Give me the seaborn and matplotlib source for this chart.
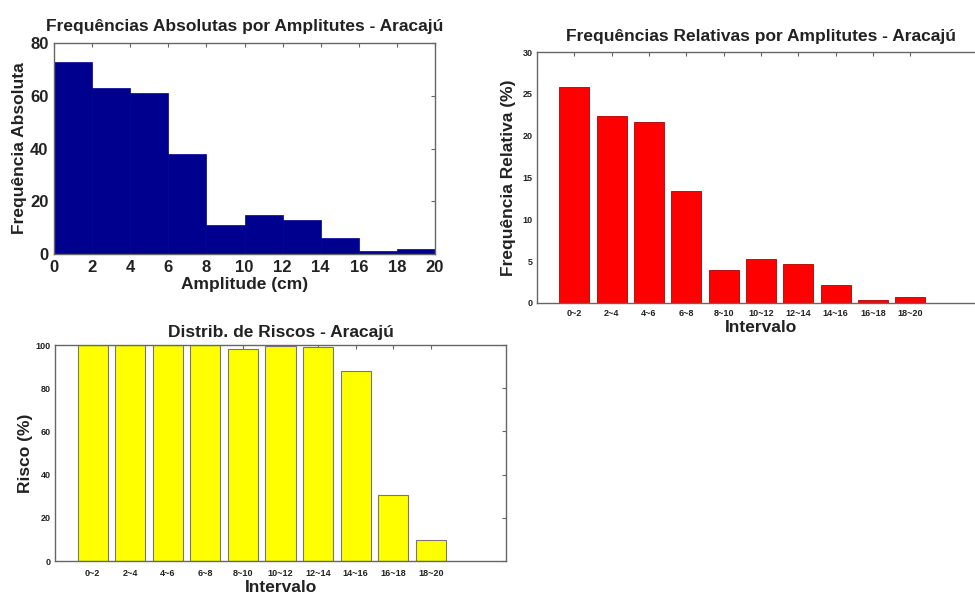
import numpy as np
import pandas as pd
import seaborn as sns
import matplotlib.pyplot as plt

# dados
bin_edges = [0, 2, 4, 6, 8, 10, 12, 14, 16, 18, 20]
bin_centers = [1, 3, 5, 7, 9, 11, 13, 15, 17, 19]
freq_abs = [73, 63, 61, 38, 11, 15, 13, 6, 1, 2]
intervalos = ["0~2", "2~4", "4~6", "6~8", "8~10", "10~12", "12~14", "14~16", "16~18", "18~20"]
freq_rel = [25.8, 22.3, 21.6, 13.4, 3.9, 5.3, 4.6, 2.1, 0.35, 0.7]
risco = [100, 100, 100, 100, 98, 99.7, 99.2, 88, 30.4, 9.9]

sns.set_style("white")
plt.rcParams["font.family"] = ["Liberation Sans", "DejaVu Sans"]
plt.rcParams["font.weight"] = "bold"
plt.rcParams["axes.labelweight"] = "bold"
plt.rcParams["axes.titleweight"] = "bold"
txt = "#222222"
spine_c = "#666666"

fig = plt.figure(figsize=(9.75, 5.95), dpi=100)

def estilo(ax, tick_size, xpad, ypad):
    for s in ax.spines.values():
        s.set_color(spine_c)
        s.set_linewidth(1.0)
        s.set_visible(True)
    ax.tick_params(direction="in", top=True, right=True, length=3, width=0.8,
                   color=spine_c, labelsize=tick_size, labelcolor=txt)
    ax.tick_params(axis="x", pad=xpad)
    ax.tick_params(axis="y", pad=ypad)

# 1. frequencias absolutas (histograma)
ax1 = fig.add_axes([0.0554, 0.573, 0.3908, 0.3546])
df_abs = pd.DataFrame({"amp": bin_centers, "n": freq_abs})
sns.histplot(data=df_abs, x="amp", weights="n", bins=bin_edges, ax=ax1,
             color="#00008F", alpha=1, edgecolor="#00008F", linewidth=0.5)
ax1.set_xlim(0, 20)
ax1.set_ylim(0, 80)
ax1.set_xticks(range(0, 21, 2))
ax1.set_yticks(range(0, 81, 20))
estilo(ax1, 12, 4, 4)
ax1.set_title("Frequências Absolutas por Amplitutes - Aracajú", fontsize=12.5, color=txt, pad=9)
ax1.set_xlabel("Amplitude (cm)", fontsize=12.5, color=txt, labelpad=2)
ax1.set_ylabel("Frequência Absoluta", fontsize=12.5, color=txt, labelpad=2)

# 2. frequencias relativas
ax2 = fig.add_axes([0.5508, 0.4908, 0.4595, 0.4218])
df_rel = pd.DataFrame({"intervalo": intervalos, "fr": freq_rel})
sns.barplot(data=df_rel, x="intervalo", y="fr", ax=ax2, color="#FF0000",
            saturation=1, width=0.8, edgecolor="#B00000", linewidth=0.6)
ax2.set_xlim(-1, 11)
ax2.set_ylim(0, 30)
ax2.set_yticks(range(0, 31, 5))
estilo(ax2, 6.5, 4, 3)
ax2.set_title("Frequências Relativas por Amplitutes - Aracajú", fontsize=12.5, color=txt, pad=8)
ax2.set_xlabel("Intervalo", fontsize=12.5, color=txt, labelpad=2)
ax2.set_ylabel("Frequência Relativa (%)", fontsize=12.5, color=txt, labelpad=5)

# 3. distribuicao de riscos
ax3 = fig.add_axes([0.0564, 0.0571, 0.4626, 0.363])
df_risco = pd.DataFrame({"intervalo": intervalos, "risco": risco})
sns.barplot(data=df_risco, x="intervalo", y="risco", ax=ax3, color="#FFFF00",
            saturation=1, width=0.8, edgecolor="#777777", linewidth=0.8)
ax3.set_xlim(-1, 11)
ax3.set_ylim(0, 100)
ax3.set_yticks(range(0, 101, 20))
estilo(ax3, 6.5, 6, 3)
ax3.set_title("Distrib. de Riscos - Aracajú", fontsize=12.5, color=txt, pad=6)
ax3.set_xlabel("Intervalo", fontsize=12.5, color=txt, labelpad=1)
ax3.set_ylabel("Risco (%)", fontsize=12.5, color=txt, labelpad=2)

fig.savefig("out.png", dpi=100, facecolor="white")
